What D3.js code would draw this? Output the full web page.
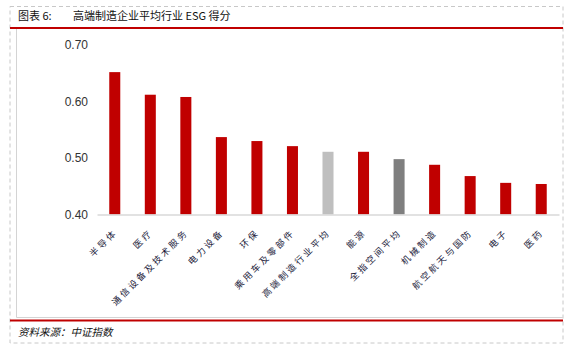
<!DOCTYPE html>
<html>
<head>
<meta charset="utf-8">
<script src="https://cdn.jsdelivr.net/npm/d3@7"></script>
<style>
  body { margin: 0; background: #fff; }
  svg { display: block; }
</style>
</head>
<body>
<div id="chart"></div>
<script>
var w = 573;
var h = 351;

var categories = ["半导体", "医疗", "通信设备及技术服务", "电力设备", "环保", "乘用车及零部件",
                  "高端制造行业平均", "能源", "全指空间平均", "机械制造", "航空航天与国防", "电子", "医药"];
var scores = [0.652, 0.612, 0.608, 0.537, 0.530, 0.521, 0.511, 0.511, 0.498, 0.488, 0.468, 0.456, 0.454];
var yTicks = [0.40, 0.50, 0.60, 0.70];

var cjk = "'Noto Sans CJK SC', 'Noto Sans', sans-serif";

var svg = d3.select("#chart")
            .append("svg")
            .attr("width", w)
            .attr("height", h);

// outer dashed frame
svg.append("rect")
   .attr("x", 10).attr("y", 6.5)
   .attr("width", 553).attr("height", 336.5)
   .attr("fill", "none")
   .attr("stroke", "#c8c8c8")
   .attr("stroke-dasharray", "4,3");

// inner chart box
svg.append("path")
   .attr("d", "M16.5,29 V317.5 H563")
   .attr("fill", "none")
   .attr("stroke", "#d4d4d4");

// red rules
svg.append("line")
   .attr("x1", 10).attr("x2", 563)
   .attr("y1", 28).attr("y2", 28)
   .attr("stroke", "#c00000").attr("stroke-width", 2);
svg.append("line")
   .attr("x1", 10).attr("x2", 563)
   .attr("y1", 320.5).attr("y2", 320.5)
   .attr("stroke", "#c00000").attr("stroke-width", 2);

// title
svg.append("text")
   .attr("x", 18).attr("y", 20)
   .attr("font-family", cjk).attr("font-size", 11)
   .attr("fill", "#111")
   .text("图表 6:");
svg.append("text")
   .attr("x", 73).attr("y", 20)
   .attr("font-family", cjk).attr("font-size", 11)
   .attr("fill", "#111")
   .text("高端制造企业平均行业 ESG 得分");

// source
svg.append("text")
   .attr("x", 18).attr("y", 336)
   .attr("font-family", cjk).attr("font-size", 10.5)
   .attr("font-style", "italic")
   .attr("fill", "#111")
   .text("资料来源：中证指数");

var xScale = d3.scaleBand()
               .domain(categories)
               .range([97, 559])
               .paddingInner(0.69)
               .paddingOuter(0.345);

var yScale = d3.scaleLinear()
               .domain([0.40, 0.70])
               .range([214.5, 45]);

function barColor(d) {
  if (d === "高端制造行业平均") return "#bfbfbf";
  if (d === "全指空间平均") return "#7f7f7f";
  return "#c00000";
}

svg.selectAll("rect.bar")
   .data(categories)
   .enter()
   .append("rect")
   .attr("class", "bar")
   .attr("x", function(d) { return xScale(d); })
   .attr("width", xScale.bandwidth())
   .attr("y", function(d, i) { return yScale(scores[i]); })
   .attr("height", function(d, i) { return yScale(0.40) - yScale(scores[i]); })
   .attr("fill", barColor);

// y axis labels (no axis line)
var yAxis = d3.axisLeft(yScale)
              .tickValues(yTicks)
              .tickFormat(d3.format(".2f"))
              .tickSize(0)
              .tickPadding(0);

var gy = svg.append("g")
            .attr("transform", "translate(88,0)")
            .call(yAxis);
gy.select(".domain").remove();
gy.selectAll("text")
  .attr("font-family", "'Liberation Sans', Arial, sans-serif")
  .attr("font-size", 12)
  .attr("fill", "#333");

// x axis baseline
var xAxis = d3.axisBottom(xScale).tickSize(0).tickFormat("");
var gx = svg.append("g")
            .attr("transform", "translate(0," + yScale(0.40) + ")")
            .call(xAxis);
gx.select(".domain")
  .attr("stroke", "#d9d9d9")
  .attr("stroke-width", 1.5);

// rotated category labels
svg.selectAll("text.cat")
   .data(categories)
   .enter()
   .append("text")
   .attr("class", "cat")
   .attr("transform", function(d) {
     var cx = xScale(d) + xScale.bandwidth() / 2 + 3;
     return "translate(" + cx + "," + 233 + ") rotate(-45)";
   })
   .attr("text-anchor", "end")
   .attr("font-family", cjk)
   .attr("font-size", 9)
   .attr("fill", "#1a1a3a")
   .attr("letter-spacing", 2.5)
   .text(function(d) { return d; });
</script>
</body>
</html>
